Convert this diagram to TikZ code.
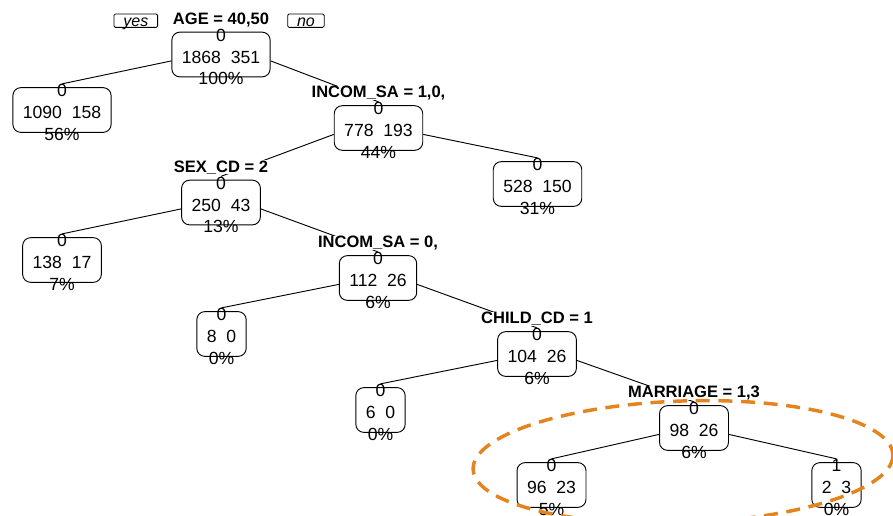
\documentclass[tikz,border=0pt]{standalone}
\usepackage{fontspec}
\setmainfont{Liberation Sans}
\usetikzlibrary{positioning}
\definecolor{hilite}{RGB}{228,132,30}
\newcommand{\toprow}{\rule{0pt}{13.1pt}}

\begin{document}
\begin{tikzpicture}[
    x=0.75pt, y=-0.75pt,
    treebox/.style={draw, line width=0.7pt, rounded corners=6pt, align=center, inner xsep=7.5pt, inner ysep=-6.15pt,
        font=\fontsize{13.2}{16.3}\selectfont},
    split/.style={fill=white, inner xsep=1pt, inner ysep=0pt, text height=9pt, text depth=1.5pt, font=\bfseries\fontsize{12.4}{14}\selectfont},
    side/.style={draw, line width=0.6pt, rounded corners=1pt, inner xsep=7pt, inner ysep=1pt, text height=8pt, text depth=0pt, font=\itshape\fontsize{12}{14}\selectfont},
    branch/.style={line width=0.7pt}
]
\useasboundingbox (0,0) rectangle (893,515);
\clip (0,0) rectangle (893,515);
% boxes
\node[treebox] (root) at (221,54.5) {\toprow0\\1868~~351\\100\%};
\node[treebox] (leafA) at (62,110) {\toprow0\\1090~~158\\56\%};
\node[treebox] (incom) at (378.5,128) {\toprow0\\778~~193\\44\%};
\node[treebox] (leafB) at (537.5,184) {\toprow0\\528~~150\\31\%};
\node[treebox] (sex) at (221,202.5) {\toprow0\\250~~43\\13\%};
\node[treebox] (leafC) at (62,260) {\toprow0\\138~~17\\7\%};
\node[treebox] (incomz) at (378,278) {\toprow0\\112~~26\\6\%};
\node[treebox] (leafD) at (221.5,334) {\toprow0\\8~~0\\0\%};
\node[treebox] (child) at (537,354) {\toprow0\\104~~26\\6\%};
\node[treebox] (leafE) at (380.5,410) {\toprow0\\6~~0\\0\%};
\node[treebox] (marr) at (694,428) {\toprow0\\98~~26\\6\%};
\node[treebox] (leafF) at (551.5,485) {\toprow0\\96~~23\\5\%};
\node[treebox] (leafG) at (836.5,485) {\toprow1\\2~~3\\0\%};
% branches
\foreach \p/\c/\s in {root/leafA/west, root/incom/east, incom/sex/west, incom/leafB/east,
    sex/leafC/west, sex/incomz/east, incomz/leafD/west, incomz/child/east,
    child/leafE/west, child/marr/east, marr/leafF/west, marr/leafG/east}
    \draw[branch] ([yshift=-4.8pt]\p.\s) -- ([yshift=2.5pt]\c.north);
% split labels
\node[split, above=3.8pt of root] (sroot) {AGE = 40,50};
\node[split, above=3.8pt of incom] (sincom) {INCOM\_SA = 1,0,};
\node[split, above=3.8pt of sex] (ssex) {SEX\_CD = 2};
\node[split, above=3.8pt of incomz] (sincomz) {INCOM\_SA = 0,};
\node[split, above=3.8pt of child] (schild) {CHILD\_CD = 1};
\node[split, above=3.8pt of marr] (smarr) {MARRIAGE = 1,3};
\node[side, left=10pt of sroot, yshift=-1pt] (yes) {yes};
\node[side, right=12.5pt of sroot, yshift=-1pt] (no) {no};
% highlight
\draw[hilite, line width=2.6pt, dash pattern=on 10.5pt off 6.5pt, rotate around={2:(683,462)}]
    (683,462) ellipse [x radius=210, y radius=61];
\end{tikzpicture}
\end{document}
